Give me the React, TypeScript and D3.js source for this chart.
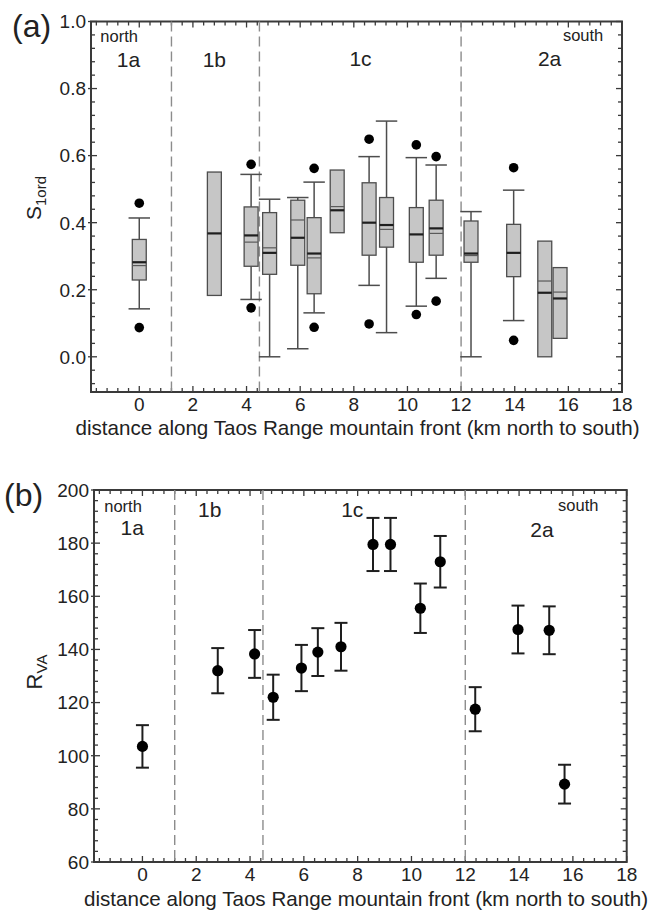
import React from 'react';
import * as d3 from 'd3';

// ---------- data ----------
const distanceKm = [0, 2.8, 4.17, 4.86, 5.91, 6.52, 7.38, 8.57, 9.22, 10.33, 11.07, 12.37, 13.96, 15.12, 15.69];

// panel (a): S1ord box plots
const boxQ3 = [0.350, 0.551, 0.447, 0.430, 0.467, 0.415, 0.557, 0.519, 0.475, 0.445, 0.467, 0.405, 0.395, 0.345, 0.266];
const boxQ1 = [0.229, 0.183, 0.270, 0.246, 0.273, 0.188, 0.370, 0.303, 0.327, 0.282, 0.303, 0.282, 0.239, 0.0, 0.055];
const boxMedian = [0.282, 0.368, 0.362, 0.310, 0.355, 0.308, 0.437, 0.400, 0.393, 0.365, 0.383, 0.308, 0.310, 0.191, 0.174];
const boxMean = [0.272, null, 0.342, 0.325, 0.408, 0.295, 0.448, null, 0.380, null, 0.368, 0.302, null, 0.226, 0.193];
const whiskerHigh = [0.414, null, 0.544, 0.470, 0.475, 0.521, null, 0.597, 0.703, 0.594, 0.572, 0.433, 0.497, null, null];
const whiskerLow = [0.143, null, 0.171, 0.0, 0.024, 0.131, null, 0.213, 0.072, 0.151, 0.234, 0.0, 0.108, null, null];
const outlierHigh = [0.458, null, 0.574, null, null, 0.562, null, 0.649, null, 0.632, 0.597, null, 0.564, null, null];
const outlierLow = [0.087, null, 0.146, null, null, 0.088, null, 0.098, null, 0.126, 0.166, null, 0.049, null, null];

// panel (b): RVA with error bars
const rvaValues = [103.5, 132, 138.3, 122, 133, 139, 141, 179.5, 179.5, 155.5, 173, 117.5, 147.5, 147.2, 89.3];
const rvaErrors = [8, 8.5, 9, 8.5, 8.7, 9, 9, 10, 10, 9.3, 9.7, 8.3, 9, 9, 7.3];

const zoneBoundariesKm = [1.2, 4.48, 12.0];
const zoneNames = ['1a', '1b', '1c', '2a'];
const xTickValues = [0, 2, 4, 6, 8, 10, 12, 14, 16, 18];
const sTickValues = [0.0, 0.2, 0.4, 0.6, 0.8, 1.0];
const rTickValues = [60, 80, 100, 120, 140, 160, 180, 200];
const xTitle = 'distance along Taos Range mountain front (km north to south)';

// ---------- styles ----------
const FONT = 'Liberation Sans, Arial, Helvetica, sans-serif';
const AXIS_COLOR = '#3a3a3a';

function minorTicks(lo: number, hi: number, step: number) {
  const out: number[] = [];
  const n = Math.round((hi - lo) / step);
  for (let i = 0; i <= n; i++) out.push(+(lo + i * step).toFixed(6));
  return out;
}

type FrameProps = {
  x: d3.ScaleLinear<number, number>;
  y: d3.ScaleLinear<number, number>;
  yTicks: number[];
  yMinor: number[];
  yFormat: (v: number) => string;
};

function Frame({ x, y, yTicks, yMinor, yFormat }: FrameProps) {
  const [x0, x1] = x.range();
  const [y0, y1] = y.range(); // y0 bottom, y1 top
  const xMinor = minorTicks(-1.6, 18, 0.4);
  const isMajorX = (v: number) => xTickValues.some((t) => Math.abs(t - v) < 1e-6);
  const isMajorY = (v: number) => yTicks.some((t) => Math.abs(t - v) < 1e-6);
  return (
    <g>
      {xMinor.map((v, i) => {
        const len = isMajorX(v) ? 6 : 4;
        const px = x(v);
        return (
          <g key={'xt' + i} stroke={AXIS_COLOR} strokeWidth={1.3}>
            <line x1={px} x2={px} y1={y0} y2={y0 - len} />
            <line x1={px} x2={px} y1={y1} y2={y1 + len} />
          </g>
        );
      })}
      {yMinor.map((v, i) => {
        const len = isMajorY(v) ? 6 : 4;
        const py = y(v);
        return (
          <g key={'yt' + i} stroke={AXIS_COLOR} strokeWidth={1.3}>
            <line x1={x0 - (isMajorY(v) ? 3 : 0)} x2={x0 + len} y1={py} y2={py} />
            <line x1={x1} x2={x1 - len} y1={py} y2={py} />
          </g>
        );
      })}
      <rect x={x0} y={y1} width={x1 - x0} height={y0 - y1} fill="none" stroke={AXIS_COLOR} strokeWidth={2} />
      {xTickValues.map((v) => (
        <text key={'xl' + v} x={x(v)} y={y0 + 18.5} textAnchor="middle" fontSize={19} fontFamily={FONT} fill="#222">
          {v}
        </text>
      ))}
      {yTicks.map((v) => (
        <text key={'yl' + v} x={x0 - 5} y={y(v)} dy="0.36em" textAnchor="end" fontSize={19} fontFamily={FONT} fill="#222">
          {yFormat(v)}
        </text>
      ))}
    </g>
  );
}

function ZoneDecor({ x, y, labelX, labelY, northPos, southPos }: any) {
  const [y0, y1] = y.range();
  return (
    <g>
      {zoneBoundariesKm.map((b) => (
        <line key={'zb' + b} x1={x(b)} x2={x(b)} y1={y1} y2={y0} stroke="#8c8c8c" strokeWidth={1.4} strokeDasharray="10,5" />
      ))}
      {zoneNames.map((z, i) => (
        <text key={z} x={x(labelX[i])} y={labelY[i]} textAnchor="middle" fontSize={21} fontFamily={FONT} fill="#222">
          {z}
        </text>
      ))}
      <text x={x(northPos[0])} y={northPos[1]} textAnchor="middle" fontSize={16.5} fontFamily={FONT} fill="#222">north</text>
      <text x={x(southPos[0])} y={southPos[1]} textAnchor="middle" fontSize={16.5} fontFamily={FONT} fill="#222">south</text>
    </g>
  );
}

function PanelA() {
  const x = d3.scaleLinear().domain([-1.8, 18]).range([91, 622]);
  const y = d3.scaleLinear().domain([-0.105, 1.0]).range([392, 21.5]);
  const halfBox = 0.26;
  const halfCap = 0.4;
  return (
    <g>
      <Frame x={x} y={y} yTicks={sTickValues} yMinor={minorTicks(-0.08, 1.0, 0.04)} yFormat={(v) => v.toFixed(1)} />
      <ZoneDecor
        x={x}
        y={y}
        labelX={[-0.4, 2.8, 8.25, 15.3]}
        labelY={[66.5, 66.5, 66, 66]}
        northPos={[-0.75, 42]}
        southPos={[16.55, 41]}
      />
      {distanceKm.map((d, i) => {
        const xl = x(d - halfBox);
        const xr = x(d + halfBox);
        const xc = x(d);
        const wh = whiskerHigh[i];
        const wl = whiskerLow[i];
        const mean = boxMean[i];
        const oh = outlierHigh[i];
        const ol = outlierLow[i];
        return (
          <g key={'box' + i}>
            {wh != null && (
              <g stroke="#4d4d4d" strokeWidth={1.5}>
                <line x1={xc} x2={xc} y1={y(boxQ3[i])} y2={y(wh)} />
                <line x1={x(d - halfCap)} x2={x(d + halfCap)} y1={y(wh)} y2={y(wh)} />
              </g>
            )}
            {wl != null && (
              <g stroke="#4d4d4d" strokeWidth={1.5}>
                <line x1={xc} x2={xc} y1={y(boxQ1[i])} y2={y(wl)} />
                <line x1={x(d - halfCap)} x2={x(d + halfCap)} y1={y(wl)} y2={y(wl)} />
              </g>
            )}
            <rect
              x={xl}
              y={y(boxQ3[i])}
              width={xr - xl}
              height={y(boxQ1[i]) - y(boxQ3[i])}
              fill="#c6c6c6"
              stroke="#4d4d4d"
              strokeWidth={1.3}
            />
            {mean != null && <line x1={xl} x2={xr} y1={y(mean)} y2={y(mean)} stroke="#5a5a5a" strokeWidth={1.2} />}
            <line x1={xl} x2={xr} y1={y(boxMedian[i])} y2={y(boxMedian[i])} stroke="#1e1e1e" strokeWidth={2.2} />
            {oh != null && <circle cx={xc} cy={y(oh)} r={4.8} fill="#000" />}
            {ol != null && <circle cx={xc} cy={y(ol)} r={4.8} fill="#000" />}
          </g>
        );
      })}
      <text x={357.5} y={434.5} textAnchor="middle" fontSize={20.6} fontFamily={FONT} fill="#222">{xTitle}</text>
      <text x={12} y={36.5} fontSize={32} fontFamily={FONT} fill="#222">(a)</text>
      <text transform="translate(41,198) rotate(-90)" textAnchor="middle" fontFamily={FONT} fill="#222" fontSize={21}>
        S<tspan fontSize={15} dy={5}>1ord</tspan>
      </text>
    </g>
  );
}

function PanelB() {
  const x = d3.scaleLinear().domain([-1.8, 18]).range([94, 626.7]);
  const y = d3.scaleLinear().domain([60, 200]).range([862, 490]);
  const capHalf = 6.5;
  return (
    <g>
      <Frame x={x} y={y} yTicks={rTickValues} yMinor={minorTicks(60, 200, 4)} yFormat={(v) => String(v)} />
      <ZoneDecor
        x={x}
        y={y}
        labelX={[-0.38, 2.5, 7.8, 14.85]}
        labelY={[535, 517, 516.5, 536.5]}
        northPos={[-0.72, 511.5]}
        southPos={[16.2, 510.5]}
      />
      {distanceKm.map((d, i) => {
        const xc = x(d);
        const v = rvaValues[i];
        const e = rvaErrors[i];
        return (
          <g key={'pt' + i}>
            <g stroke="#1e1e1e" strokeWidth={2}>
              <line x1={xc} x2={xc} y1={y(v + e)} y2={y(v - e)} />
              <line x1={xc - capHalf} x2={xc + capHalf} y1={y(v + e)} y2={y(v + e)} />
              <line x1={xc - capHalf} x2={xc + capHalf} y1={y(v - e)} y2={y(v - e)} />
            </g>
            <circle cx={xc} cy={y(v)} r={5.6} fill="#000" />
          </g>
        );
      })}
      <text x={366} y={905.5} textAnchor="middle" fontSize={20.6} fontFamily={FONT} fill="#222">{xTitle}</text>
      <text x={4} y={506} fontSize={32} fontFamily={FONT} fill="#222">(b)</text>
      <text transform="translate(42,672) rotate(-90)" textAnchor="middle" fontFamily={FONT} fill="#222" fontSize={22}>
        R<tspan fontSize={15} dy={5}>VA</tspan>
      </text>
    </g>
  );
}

export default function App() {
  return (
    <svg
      width={668}
      height={912}
      viewBox="0 0 668 912"
      style={{ position: 'absolute', left: 0, top: 0, background: '#fff' }}
    >
      <rect x={0} y={0} width={668} height={912} fill="#fff" />
      <PanelA />
      <PanelB />
    </svg>
  );
}
